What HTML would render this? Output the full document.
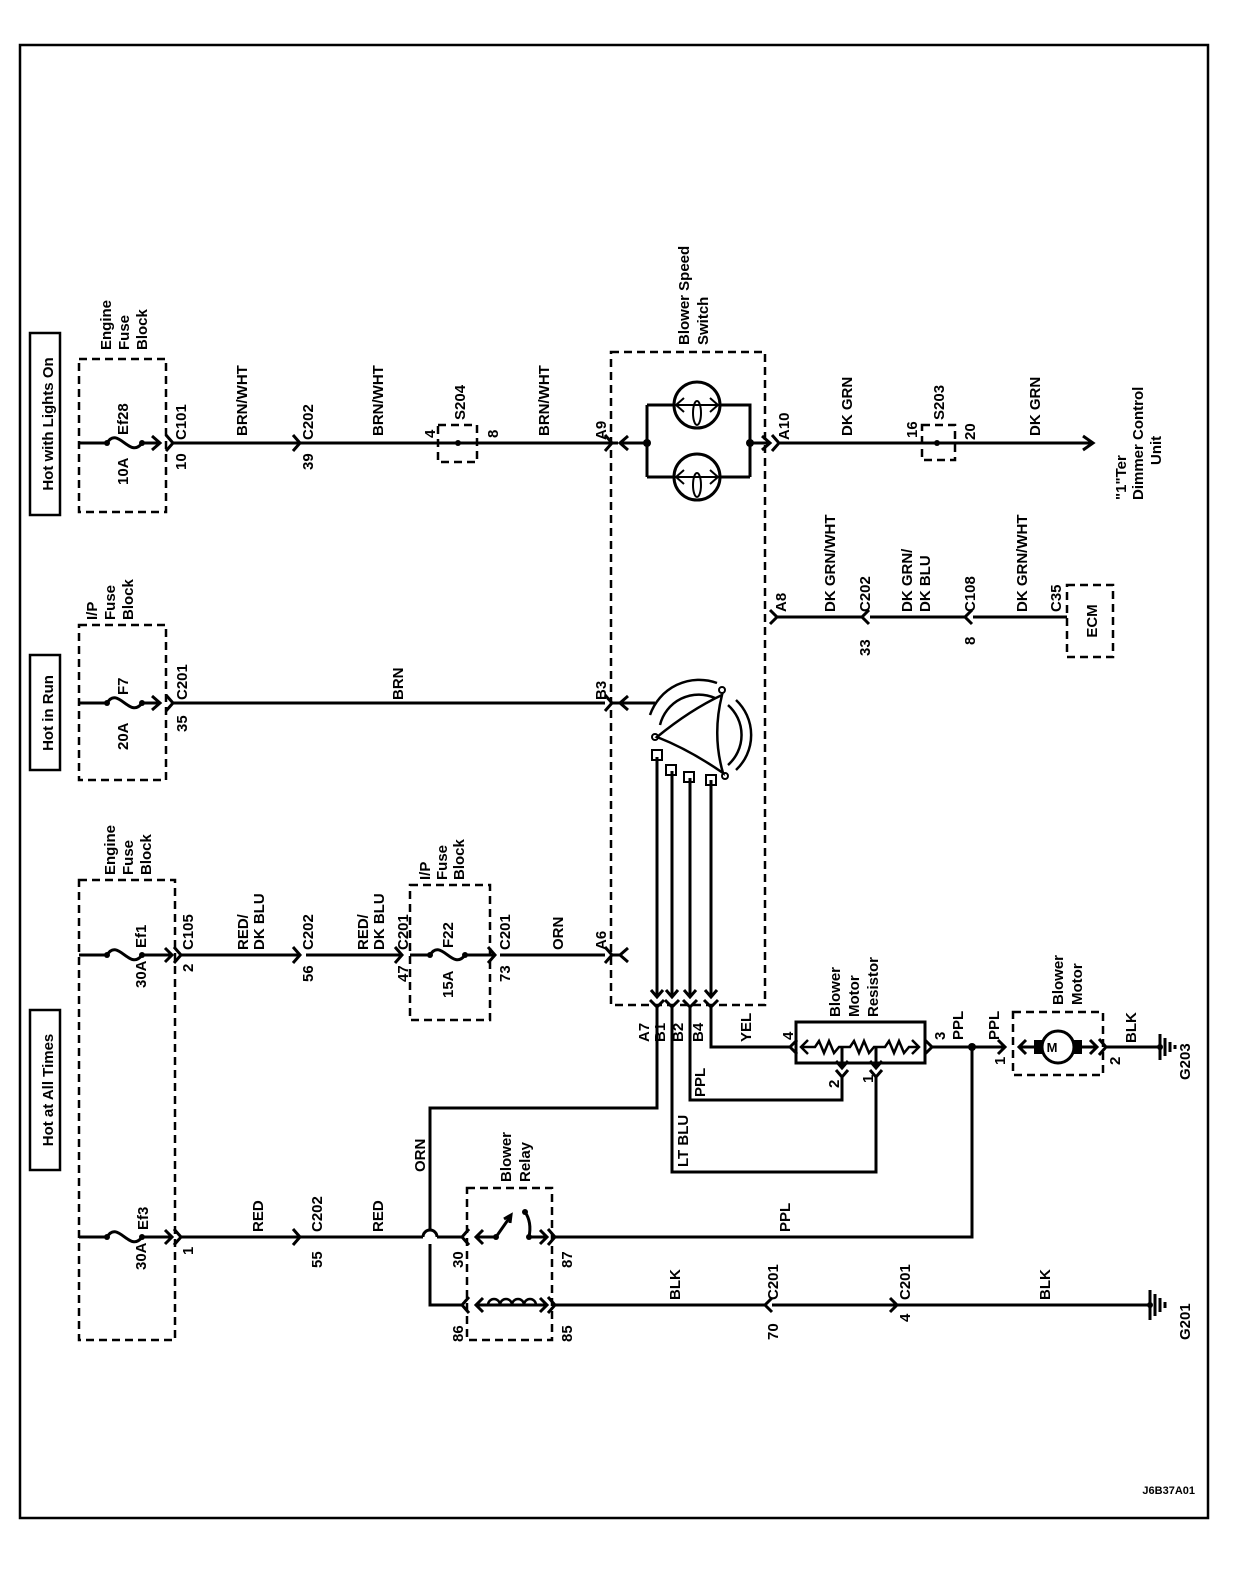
<!DOCTYPE html>
<html><head><meta charset="utf-8"><style>
html,body{margin:0;padding:0;background:#fff}
svg text{font-family:"Liberation Sans",Arial,sans-serif;font-weight:bold;font-size:15px;fill:#000}
</style></head><body>
<svg width="1248" height="1584" viewBox="0 0 1248 1584" xmlns="http://www.w3.org/2000/svg">
<rect x="20" y="45" width="1188" height="1473" fill="none" stroke="#000" stroke-width="2.5"/>
<g fill="none" stroke="#000" stroke-width="3">
<!-- label boxes -->
<rect x="30" y="333" width="30" height="182" stroke-width="2.5"/>
<rect x="30" y="655" width="30" height="115" stroke-width="2.5"/>
<rect x="30" y="1010" width="30" height="160" stroke-width="2.5"/>
</g>
<g fill="none" stroke="#000" stroke-width="2.5" stroke-dasharray="8,5">
<rect x="79" y="359" width="87" height="153"/>
<rect x="79" y="625" width="87" height="155"/>
<rect x="79" y="880" width="96" height="460"/>
<rect x="410" y="885" width="80" height="135"/>
<rect x="438" y="425" width="39" height="37"/>
<rect x="922" y="425" width="33" height="35"/>
<rect x="611" y="352" width="154" height="653"/>
<rect x="467" y="1188" width="85" height="152"/>
<rect x="1013" y="1012" width="90" height="63"/>
<rect x="1067" y="585" width="46" height="72"/>
</g>
<g fill="none" stroke="#000" stroke-width="3" stroke-linejoin="miter">
<!-- row 1 -->
<path d="M79 443 H107 M142 443 H160 M172 443 H300 H617 M620 443 H647 M750 443 H770 M780 443 H1093"/>
<path d="M107 443 C118 425,130 460,142 443"/>
<path d="M152 436 L160 443 L152 450"/>
<path d="M166 435 L173 443 L166 451 M173 443 H178"/>
<path d="M293 435 L300 443 L293 451 M300 443 H306"/>
<path d="M605 435 L612 443 L605 451 M612 443 H618"/>
<path d="M628 436 L620 443 L628 450"/>
<path d="M647 405 V477 M647 405 H675 M720 405 H750 V477 M647 477 H675 M720 477 H750"/>
<path d="M762 436 L770 443 L762 450"/>
<path d="M772 435 L779 443 L772 451"/>
<path d="M1083 436 L1093 443 L1083 450"/>
<circle cx="697" cy="405" r="23"/>
<circle cx="697" cy="477" r="23"/>
<path d="M676 405 H718 M684 398 L676 405 L684 412 M710 398 L718 405 L710 412 M676 477 H718 M684 470 L676 477 L684 484 M710 470 L718 477 L710 484" stroke-width="2"/>
<ellipse cx="697" cy="413" rx="4" ry="12" stroke-width="2"/>
<ellipse cx="697" cy="485" rx="4" ry="12" stroke-width="2"/>
<!-- row 2 -->
<path d="M79 703 H107 M142 703 H160 M172 703 H605 M612 703 H655"/>
<path d="M107 703 C118 685,130 720,142 703"/>
<path d="M152 696 L160 703 L152 710"/>
<path d="M166 695 L173 703 L166 711"/>
<path d="M605 695 L612 703 L605 711"/>
<path d="M628 696 L620 703 L628 710"/>
<!-- rotary switch -->
<path d="M657 737 Q690 710 722 695 Q712 735 723 773 Q690 750 657 737 Z" stroke-width="2.5"/>
<path d="M650 715 A52 52 0 0 1 717 683" stroke-width="2.5"/>
<path d="M660 725 A40 40 0 0 1 715 698" stroke-width="2.5"/>
<path d="M736 700 A48 48 0 0 1 736 770" stroke-width="2.5"/>
<path d="M728 705 A40 40 0 0 1 728 765" stroke-width="2.5"/>
<circle cx="655" cy="737" r="3" stroke-width="2"/>
<circle cx="722" cy="690" r="3" stroke-width="2"/>
<circle cx="725" cy="776" r="3" stroke-width="2"/>
<rect x="652" y="750" width="10" height="10" stroke-width="2"/>
<rect x="666" y="765" width="10" height="10" stroke-width="2"/>
<rect x="684" y="772" width="10" height="10" stroke-width="2"/>
<rect x="706" y="775" width="10" height="10" stroke-width="2"/>
<path d="M657 757 V997 M672 771 V997 M690 778 V997 M711 780 V997"/>
<path d="M651 990 L657 997 L663 990 M666 990 L672 997 L678 990 M684 990 L690 997 L696 990 M705 990 L711 997 L717 990"/>
<path d="M650 1000 L657 1007 L664 1000 M665 1000 L672 1007 L679 1000 M683 1000 L690 1007 L697 1000 M704 1000 L711 1007 L718 1000"/>
<!-- A8 row -->
<path d="M770 610 L777 617 L770 624 M777 617 H862 M870 617 H965 M973 617 H1067"/>
<path d="M869 610 L862 617 L869 624 M972 610 L965 617 L972 624"/>
<!-- row 3 -->
<path d="M79 955 H107 M142 955 H172 M180 955 H300 M306 955 H402 M410 955 H430 M465 955 H495 M500 955 H605 M612 955 H620"/>
<path d="M107 955 C118 937,130 972,142 955"/>
<path d="M430 955 C441 937,453 972,465 955"/>
<path d="M165 948 L172 955 L165 962 M174 947 L181 955 L174 963 M293 947 L300 955 L293 963 M395 947 L402 955 L395 963 M488 947 L495 955 L488 963 M605 947 L612 955 L605 963"/>
<path d="M628 948 L620 955 L628 962"/>
<!-- row 4 -->
<path d="M79 1237 H107 M142 1237 H172 M180 1237 H423 M437 1237 H462"/>
<path d="M423 1237 A7 7 0 0 1 437 1237"/>
<path d="M107 1237 C118 1219,130 1254,142 1237"/>
<path d="M165 1230 L172 1237 L165 1244 M174 1229 L181 1237 L174 1245 M293 1229 L300 1237 L293 1245"/>
<path d="M657 1007 V1108 H430 V1230 M430 1244 V1305 H462"/>
<path d="M469 1229 L462 1237 L469 1245 M469 1297 L462 1305 L469 1313"/>
<path d="M483 1230 L476 1237 L483 1244 M476 1237 H496 L510 1217"/>
<path d="M504 1219 L511 1215 L510 1223"/>
<path d="M525 1212 Q532 1222 529 1237 H547 M540 1230 L547 1237 L540 1244"/>
<path d="M548 1229 L555 1237 L548 1245 M555 1237 H972 V1047"/>
<path d="M476 1305 H547 M483 1298 L476 1305 L483 1312 M540 1298 L547 1305 L540 1312"/>
<path d="M488 1305 a6 6 0 0 1 12 0 a6 6 0 0 1 12 0 a6 6 0 0 1 12 0 a6 6 0 0 1 12 0" stroke-width="2.5"/>
<path d="M548 1297 L555 1305 L548 1313 M555 1305 H765 M772 1298 L765 1305 L772 1312 M772 1305 H897 M890 1298 L897 1305 L890 1312 M897 1305 H1150"/>
<path d="M1150 1290 V1320 M1155 1294 V1316 M1160 1298 V1312 M1165 1302 V1308"/>
<!-- resistor -->
<path d="M711 1007 V1047 H790"/>
<path d="M797 1040 L790 1047 L797 1054"/>
<rect x="796" y="1022" width="129" height="41"/>
<path d="M808 1040 L801 1047 L808 1054 M801 1047 H815 l4 -6 l5 12 l5 -12 l5 12 l5 -6 H850 l4 -6 l5 12 l5 -12 l5 12 l5 -6 H885 l4 -6 l5 12 l5 -12 l5 12 l5 -6 H919 M912 1040 L919 1047 L912 1054" stroke-width="2.5"/>
<path d="M842 1047 V1068 M836 1061 L842 1068 L848 1061 M876 1047 V1068 M870 1061 L876 1068 L882 1061"/>
<path d="M836 1070 L842 1077 L848 1070 M870 1070 L876 1077 L882 1070"/>
<path d="M690 1007 V1100 H842 V1077 M672 1007 V1172 H876 V1077"/>
<path d="M925 1040 L932 1047 L925 1054 M932 1047 H1005"/>
<path d="M998 1040 L1005 1047 L998 1054 M1026 1040 L1019 1047 L1026 1054 M1019 1047 H1040 M1076 1047 H1097 M1090 1040 L1097 1047 L1090 1054 M1099 1039 L1106 1047 L1099 1055 M1106 1047 H1160"/>
<circle cx="1058" cy="1047" r="16"/>
<path d="M1160 1034 V1060 M1165 1038 V1056 M1170 1042 V1052 M1175 1045 V1049"/>
</g>
<g fill="#000">
<circle cx="458" cy="443" r="3"/><circle cx="937" cy="443" r="3"/>
<circle cx="647" cy="443" r="4"/><circle cx="750" cy="443" r="4"/>
<circle cx="972" cy="1047" r="4"/>
<circle cx="107" cy="443" r="3"/><circle cx="142" cy="443" r="3"/>
<circle cx="107" cy="703" r="3"/><circle cx="142" cy="703" r="3"/>
<circle cx="107" cy="955" r="3"/><circle cx="142" cy="955" r="3"/>
<circle cx="430" cy="955" r="3"/><circle cx="465" cy="955" r="3"/>
<circle cx="107" cy="1237" r="3"/><circle cx="142" cy="1237" r="3"/>
<circle cx="496" cy="1237" r="3"/><circle cx="529" cy="1237" r="3"/><circle cx="525" cy="1212" r="3"/>
<circle cx="1150" cy="1305" r="3"/><circle cx="1160" cy="1047" r="3"/>
<rect x="1034" y="1040" width="8" height="14"/><rect x="1074" y="1040" width="8" height="14"/>
</g>
<text x="1052" y="1052" text-anchor="middle" style="font-size:13px">M</text>

<g>
<text transform="translate(53,424) rotate(-90)" text-anchor="middle">Hot with Lights On</text>
<text transform="translate(53,713) rotate(-90)" text-anchor="middle">Hot in Run</text>
<text transform="translate(53,1090) rotate(-90)" text-anchor="middle">Hot at All Times</text>

<text transform="translate(111,350) rotate(-90)">Engine</text>
<text transform="translate(129,350) rotate(-90)">Fuse</text>
<text transform="translate(147,350) rotate(-90)">Block</text>
<text transform="translate(128,435) rotate(-90)">Ef28</text>
<text transform="translate(128,485) rotate(-90)">10A</text>
<text transform="translate(186,440) rotate(-90)">C101</text>
<text transform="translate(186,470) rotate(-90)">10</text>
<text transform="translate(247,436) rotate(-90)">BRN/WHT</text>
<text transform="translate(313,440) rotate(-90)">C202</text>
<text transform="translate(313,470) rotate(-90)">39</text>
<text transform="translate(383,436) rotate(-90)">BRN/WHT</text>
<text transform="translate(435,438) rotate(-90)">4</text>
<text transform="translate(465,420) rotate(-90)">S204</text>
<text transform="translate(498,438) rotate(-90)">8</text>
<text transform="translate(549,436) rotate(-90)">BRN/WHT</text>
<text transform="translate(606,440) rotate(-90)">A9</text>
<text transform="translate(689,345) rotate(-90)">Blower Speed</text>
<text transform="translate(708,345) rotate(-90)">Switch</text>
<text transform="translate(789,440) rotate(-90)">A10</text>
<text transform="translate(852,436) rotate(-90)">DK GRN</text>
<text transform="translate(917,438) rotate(-90)">16</text>
<text transform="translate(944,420) rotate(-90)">S203</text>
<text transform="translate(975,440) rotate(-90)">20</text>
<text transform="translate(1040,436) rotate(-90)">DK GRN</text>
<text transform="translate(1126,500) rotate(-90)">"1"Ter</text>
<text transform="translate(1143,500) rotate(-90)">Dimmer Control</text>
<text transform="translate(1161,465) rotate(-90)">Unit</text>

<text transform="translate(97,620) rotate(-90)">I/P</text>
<text transform="translate(115,620) rotate(-90)">Fuse</text>
<text transform="translate(133,620) rotate(-90)">Block</text>
<text transform="translate(128,695) rotate(-90)">F7</text>
<text transform="translate(128,750) rotate(-90)">20A</text>
<text transform="translate(187,700) rotate(-90)">C201</text>
<text transform="translate(187,732) rotate(-90)">35</text>
<text transform="translate(403,700) rotate(-90)">BRN</text>
<text transform="translate(606,700) rotate(-90)">B3</text>

<text transform="translate(786,612) rotate(-90)">A8</text>
<text transform="translate(835,612) rotate(-90)">DK GRN/WHT</text>
<text transform="translate(870,612) rotate(-90)">C202</text>
<text transform="translate(870,656) rotate(-90)">33</text>
<text transform="translate(912,612) rotate(-90)">DK GRN/</text>
<text transform="translate(930,612) rotate(-90)">DK BLU</text>
<text transform="translate(975,612) rotate(-90)">C108</text>
<text transform="translate(975,645) rotate(-90)">8</text>
<text transform="translate(1027,612) rotate(-90)">DK GRN/WHT</text>
<text transform="translate(1061,612) rotate(-90)">C35</text>
<text transform="translate(1097,621) rotate(-90)" text-anchor="middle">ECM</text>

<text transform="translate(115,875) rotate(-90)">Engine</text>
<text transform="translate(133,875) rotate(-90)">Fuse</text>
<text transform="translate(151,875) rotate(-90)">Block</text>
<text transform="translate(146,948) rotate(-90)">Ef1</text>
<text transform="translate(146,988) rotate(-90)">30A</text>
<text transform="translate(193,950) rotate(-90)">C105</text>
<text transform="translate(193,972) rotate(-90)">2</text>
<text transform="translate(248,950) rotate(-90)">RED/</text>
<text transform="translate(264,950) rotate(-90)">DK BLU</text>
<text transform="translate(313,950) rotate(-90)">C202</text>
<text transform="translate(313,982) rotate(-90)">56</text>
<text transform="translate(368,950) rotate(-90)">RED/</text>
<text transform="translate(384,950) rotate(-90)">DK BLU</text>
<text transform="translate(408,950) rotate(-90)">C201</text>
<text transform="translate(408,982) rotate(-90)">47</text>
<text transform="translate(430,880) rotate(-90)">I/P</text>
<text transform="translate(447,880) rotate(-90)">Fuse</text>
<text transform="translate(464,880) rotate(-90)">Block</text>
<text transform="translate(453,948) rotate(-90)">F22</text>
<text transform="translate(453,998) rotate(-90)">15A</text>
<text transform="translate(510,950) rotate(-90)">C201</text>
<text transform="translate(510,982) rotate(-90)">73</text>
<text transform="translate(563,950) rotate(-90)">ORN</text>
<text transform="translate(606,950) rotate(-90)">A6</text>

<text transform="translate(649,1042) rotate(-90)">A7</text>
<text transform="translate(665,1042) rotate(-90)">B1</text>
<text transform="translate(683,1042) rotate(-90)">B2</text>
<text transform="translate(703,1042) rotate(-90)">B4</text>
<text transform="translate(751,1042) rotate(-90)">YEL</text>
<text transform="translate(705,1097) rotate(-90)">PPL</text>
<text transform="translate(688,1167) rotate(-90)">LT BLU</text>
<text transform="translate(793,1040) rotate(-90)">4</text>
<text transform="translate(840,1017) rotate(-90)">Blower</text>
<text transform="translate(859,1017) rotate(-90)">Motor</text>
<text transform="translate(878,1017) rotate(-90)">Resistor</text>
<text transform="translate(839,1088) rotate(-90)">2</text>
<text transform="translate(873,1083) rotate(-90)">1</text>
<text transform="translate(945,1040) rotate(-90)">3</text>
<text transform="translate(963,1040) rotate(-90)">PPL</text>
<text transform="translate(999,1040) rotate(-90)">PPL</text>
<text transform="translate(1005,1065) rotate(-90)">1</text>
<text transform="translate(1063,1005) rotate(-90)">Blower</text>
<text transform="translate(1082,1005) rotate(-90)">Motor</text>
<text transform="translate(1120,1065) rotate(-90)">2</text>
<text transform="translate(1136,1043) rotate(-90)">BLK</text>
<text transform="translate(1190,1080) rotate(-90)">G203</text>

<text transform="translate(148,1230) rotate(-90)">Ef3</text>
<text transform="translate(146,1270) rotate(-90)">30A</text>
<text transform="translate(193,1255) rotate(-90)">1</text>
<text transform="translate(263,1232) rotate(-90)">RED</text>
<text transform="translate(322,1232) rotate(-90)">C202</text>
<text transform="translate(322,1268) rotate(-90)">55</text>
<text transform="translate(383,1232) rotate(-90)">RED</text>
<text transform="translate(425,1172) rotate(-90)">ORN</text>
<text transform="translate(511,1182) rotate(-90)">Blower</text>
<text transform="translate(530,1182) rotate(-90)">Relay</text>
<text transform="translate(463,1268) rotate(-90)">30</text>
<text transform="translate(572,1268) rotate(-90)">87</text>
<text transform="translate(790,1232) rotate(-90)">PPL</text>
<text transform="translate(463,1342) rotate(-90)">86</text>
<text transform="translate(572,1342) rotate(-90)">85</text>
<text transform="translate(680,1300) rotate(-90)">BLK</text>
<text transform="translate(778,1300) rotate(-90)">C201</text>
<text transform="translate(778,1340) rotate(-90)">70</text>
<text transform="translate(910,1300) rotate(-90)">C201</text>
<text transform="translate(910,1322) rotate(-90)">4</text>
<text transform="translate(1050,1300) rotate(-90)">BLK</text>
<text transform="translate(1190,1340) rotate(-90)">G201</text>
</g>
<text x="1195" y="1494" text-anchor="end" style="font-size:11px">J6B37A01</text>
</svg>
</body></html>
